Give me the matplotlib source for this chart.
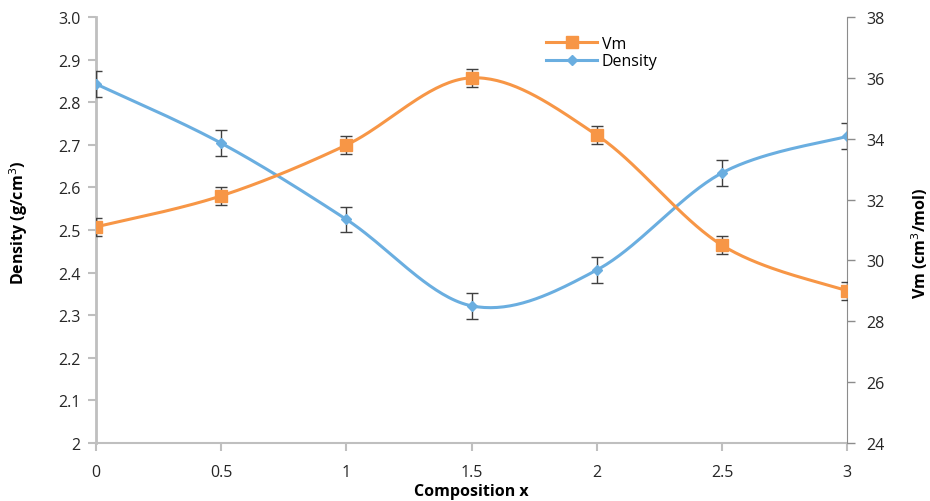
import numpy as np
import matplotlib
matplotlib.use('Agg')
import matplotlib.pyplot as plt
from matplotlib.ticker import FixedLocator

# 数据
composition = [0, 0.5, 1, 1.5, 2, 2.5, 3]
density = [2.843, 2.704, 2.525, 2.322, 2.406, 2.634, 2.720]
density_err = [0.03, 0.03, 0.03, 0.03, 0.03, 0.03, 0.03]
vm = [31.1, 32.12, 33.79, 36.0, 34.12, 30.5, 29.0]
vm_err = [0.3, 0.3, 0.3, 0.3, 0.3, 0.3, 0.3]

density_ticks = [2.0, 2.1, 2.2, 2.3, 2.4, 2.5, 2.6, 2.7, 2.8, 2.9, 3.0]
density_ticklabels = ['2', '2.1', '2.2', '2.3', '2.4', '2.5', '2.6', '2.7', '2.8', '2.9', '3.0']
vm_ticks = [24, 26, 28, 30, 32, 34, 36, 38]
x_ticks = [0, 0.5, 1, 1.5, 2, 2.5, 3]
x_ticklabels = ['0', '0.5', '1', '1.5', '2', '2.5', '3']

ORANGE = '#F79646'
BLUE = '#6AAEE0'
AXIS_GRAY = '#BFBFBF'


def smooth_curve(xs, ys, n=40):
    """Excel 风格的平滑线（Catmull-Rom 转 Bezier）"""
    p = np.column_stack([xs, ys]).astype(float)
    pts = np.vstack([p[0], p, p[-1]])
    t = np.linspace(0, 1, n)[:, None]
    out = []
    for i in range(1, len(pts) - 2):
        p0, p1, p2, p3 = pts[i - 1], pts[i], pts[i + 1], pts[i + 2]
        c1 = p1 + (p2 - p0) / 6
        c2 = p2 - (p3 - p1) / 6
        seg = ((1 - t) ** 3) * p1 + 3 * ((1 - t) ** 2) * t * c1 + 3 * (1 - t) * t ** 2 * c2 + t ** 3 * p2
        out.append(seg)
    out = np.vstack(out)
    return out[:, 0], out[:, 1]


plt.rcParams['font.family'] = ['Open Sans', 'DejaVu Sans']

fig = plt.figure(figsize=(9.3, 5.02), dpi=100)
ax = fig.add_axes([0.103, 0.1155, 0.808, 0.8487])
ax2 = ax.twinx()

# Density（左轴）
sx, sy = smooth_curve(composition, density)
ax.plot(sx, sy, color=BLUE, linewidth=2.2, zorder=3)
ax.errorbar(composition, density, yerr=density_err, fmt='D', color=BLUE, markersize=5,
            ecolor='#404040', elinewidth=1, capsize=4, capthick=1, zorder=4)

# Vm（右轴）
sx2, sy2 = smooth_curve(composition, vm)
ax2.plot(sx2, sy2, color=ORANGE, linewidth=2.2, zorder=3)
ax2.errorbar(composition, vm, yerr=vm_err, fmt='s', color=ORANGE, markersize=8,
             ecolor='#404040', elinewidth=1, capsize=4, capthick=1, zorder=4)

ax.set_xlim(0, 3)
ax.set_ylim(2.0, 3.0)
ax2.set_ylim(24, 38)

ax.xaxis.set_major_locator(FixedLocator(x_ticks))
ax.set_xticklabels(x_ticklabels)
ax.yaxis.set_major_locator(FixedLocator(density_ticks))
ax.set_yticklabels(density_ticklabels)
ax2.yaxis.set_major_locator(FixedLocator(vm_ticks))

for a in (ax, ax2):
    a.spines['top'].set_visible(False)
    a.tick_params(labelsize=11.5, colors='#262626', length=6, width=1, direction='out', pad=5)
ax.spines['left'].set_color(AXIS_GRAY)
ax.spines['bottom'].set_color(AXIS_GRAY)
ax.spines['right'].set_visible(False)
ax2.spines['left'].set_visible(False)
ax2.spines['bottom'].set_visible(False)
ax2.spines['right'].set_color('#8C8C8C')
ax.tick_params(axis='both', color=AXIS_GRAY, width=1.5)
ax.spines['left'].set_linewidth(2)
ax.spines['bottom'].set_linewidth(1.5)
ax2.tick_params(axis='y', color='#8C8C8C')
ax.tick_params(axis='x', pad=9)
ax2.tick_params(axis='y', pad=8)

ax.set_ylabel('Density (g/cm$^3$)', fontsize=11.5, fontweight='bold')
ax.yaxis.set_label_coords(-0.087, 0.52)
ax2.set_ylabel('Vm (cm$^3$/mol)', fontsize=11.5, fontweight='bold')
ax2.yaxis.set_label_coords(1.083, 0.47)
ax.set_xlabel('Composition x', fontsize=11.5, fontweight='bold', labelpad=2)

# 图例
h_vm = plt.Line2D([], [], color=ORANGE, marker='s', markersize=8, linewidth=2.2)
h_d = plt.Line2D([], [], color=BLUE, marker='D', markersize=5, linewidth=2.2)
ax.legend([h_vm, h_d], ['Vm', 'Density'], loc='upper left', bbox_to_anchor=(0.58, 0.99),
          frameon=False, fontsize=11.5, handlelength=3.2, labelspacing=0.1, handletextpad=0.3)

fig.savefig('out.png', dpi=100)
